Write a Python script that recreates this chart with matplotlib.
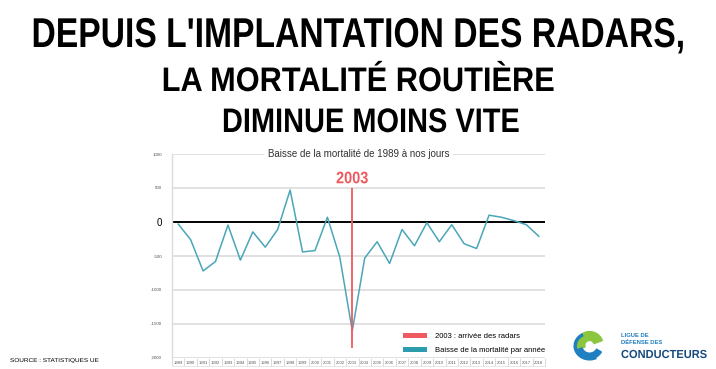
import matplotlib
matplotlib.use("Agg")
import matplotlib.pyplot as plt
from matplotlib.patches import Patch, Wedge, Arc
from matplotlib.patheffects import AbstractPathEffect
from matplotlib.transforms import Affine2D

# Data
years = list(range(1989, 2019))
variation = [-30, -260, -720, -580, -45, -560, -145, -370, -110, 470,
             -440, -420, 70, -520, -1600, -530, -290, -610, -110, -350,
             -10, -290, -40, -320, -390, 100, 70, 20, -40, -210]
radar_year = 2003
y_ticks = [1000, 500, 0, -500, -1000, -1500, -2000]

title_lines = ["DEPUIS L'IMPLANTATION DES RADARS,", "LA MORTALITÉ ROUTIÈRE", "DIMINUE MOINS VITE"]
chart_title = "Baisse de la mortalité de 1989 à nos jours"
legend_labels = ["2003 : arrivée des radars", "Baisse de la mortalité par année"]

teal = "#4aa6b8"
teal_dark = "#2b9daf"
red = "#ee5a60"
grid_gray = "#dcdcdc"

plt.rcParams["font.family"] = ["Liberation Sans", "DejaVu Sans"]

W, H = 716, 369
fig = plt.figure(figsize=(W / 100, H / 100), dpi=100)


class Stretch(AbstractPathEffect):
    """Stretch a text vertically around its anchor, giving a condensed face look."""

    def __init__(self, sy, y0):
        super().__init__()
        self.sy = sy
        self.y0 = y0

    def draw_path(self, renderer, gc, tpath, affine, rgbFace=None):
        t = affine + Affine2D().translate(0, -self.y0).scale(1, self.sy).translate(0, self.y0)
        renderer.draw_path(gc, tpath, t, rgbFace)


def condense_to(txt, target_w):
    # shrink the font until it has the wanted width, then stretch it back up
    r = fig.canvas.get_renderer()
    k = target_w / txt.get_window_extent(r).width
    txt.set_fontsize(txt.get_fontsize() * k)
    y0 = txt.get_transform().transform(txt.get_position())[1]
    txt.set_path_effects([Stretch(1 / k, y0)])


# Big headline, three centred lines (condensed bold look)
h1 = fig.text(358 / W, 1 - 47 / H, title_lines[0], ha="center", va="baseline",
              fontsize=30, fontweight="bold")
h2 = fig.text(358 / W, 1 - 91 / H, title_lines[1], ha="center", va="baseline",
              fontsize=24.5, fontweight="bold")
h3 = fig.text(371.5 / W, 1 - 132 / H, title_lines[2], ha="center", va="baseline",
              fontsize=24.5, fontweight="bold")

ax = fig.add_axes([172 / W, 1 - 358 / H, 373 / W, 204 / H])
x = list(range(len(years)))
ax.set_xlim(-0.5, len(years) - 0.5)
ax.set_ylim(-2000, 1000)

for v in y_ticks:
    if v != 0:
        ax.axhline(v, color=grid_gray, lw=1.2, zorder=1)
ax.axhline(0, color="black", lw=1.4, zorder=2)

ax.plot(x, variation, color=teal, lw=1.1, zorder=3)

# radar arrival marker
ri = years.index(radar_year)
ax.vlines(ri, -1850, 500, color=red, lw=1.3, zorder=4)
lbl_2003 = ax.text(ri, 570, str(radar_year), color=red, ha="center", va="baseline",
                   fontsize=12, fontweight="bold")

# title sitting on the top gridline
ax.text(0.5, 1.0, chart_title, transform=ax.transAxes, ha="center", va="center",
        fontsize=7.0, color="#333333",
        bbox=dict(facecolor="white", edgecolor="none", pad=3))

for side in ["top", "right", "bottom"]:
    ax.spines[side].set_visible(False)
ax.spines["left"].set_color(grid_gray)
ax.spines["left"].set_linewidth(1.0)

ax.set_yticks(y_ticks)
ax.set_yticklabels([str(v) for v in y_ticks], fontsize=3.2, color="#555555")
ax.tick_params(axis="y", length=0, pad=7)
for lab in ax.get_yticklabels():
    if lab.get_text() == "0":
        lab.set_fontsize(7)
        lab.set_color("black")

ax.set_xticks(x)
ax.set_xticklabels([str(y) for y in years], fontsize=3.0, color="#555555")
ax.set_xticks([i - 0.5 for i in range(len(years) + 1)], minor=True)
ax.tick_params(axis="x", which="major", length=0, pad=2.5)
ax.tick_params(axis="x", which="minor", length=6, width=0.5, color="#cccccc")
ax.plot([0, 1], [-0.04, -0.04], transform=ax.transAxes, color="#dddddd",
        lw=0.5, clip_on=False)

handles = [Patch(facecolor=red, edgecolor="none"), Patch(facecolor=teal_dark, edgecolor="none")]
ax.legend(handles, legend_labels, loc="lower left", bbox_to_anchor=(0.6, -0.015),
          frameon=False, fontsize=5.5, handlelength=3.2, handleheight=0.8,
          handletextpad=1.0, labelspacing=0.85)

src = fig.text(10 / W, 1 - 362 / H, "SOURCE : STATISTIQUES UE", fontsize=4.0,
               ha="left", va="baseline")

# logo
lax = fig.add_axes([572 / W, 1 - 362 / H, 32 / W, 32 / H])
lax.set_xlim(-1, 1)
lax.set_ylim(-1, 1)
lax.set_aspect("equal")
lax.axis("off")
lax.add_patch(Wedge((0.1, 0.05), 0.85, 20, 200, width=0.55, color="#8cc63f"))
lax.add_patch(Arc((0.1, 0.0), 1.8, 1.6, theta1=120, theta2=300, color="#1f7fc0", lw=2.5))
lax.add_patch(Wedge((0.1, 0.05), 0.85, 200, 330, width=0.35, color="#1f7fc0"))

fig.text(621 / W, 1 - 337 / H, "LIGUE DE", fontsize=4.2, color="#1f7fc0",
         fontweight="bold", va="baseline")
fig.text(621 / W, 1 - 343.5 / H, "DÉFENSE DES", fontsize=4.2, color="#1f7fc0",
         fontweight="bold", va="baseline")
logo_txt = fig.text(621 / W, 1 - 358 / H, "CONDUCTEURS", fontsize=8.4, color="#174a7e",
                    fontweight="bold", va="baseline")

# narrow the condensed-style texts to the widths seen in the reference
condense_to(h1, 652)
condense_to(h2, 392)
condense_to(h3, 297)
condense_to(lbl_2003, 32)
condense_to(logo_txt, 86)
condense_to(src, 87)

fig.savefig("out.png", dpi=100)
